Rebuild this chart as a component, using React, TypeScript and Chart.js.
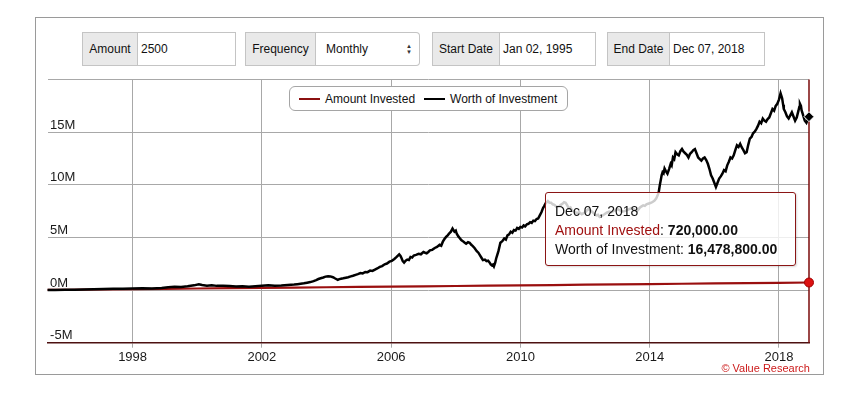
import React, { useEffect, useRef } from 'react';
import { Chart, registerables } from 'chart.js';

Chart.register(...registerables);

// ---------- DATA ----------
const amountDates = [1995.37, 1996, 1997, 1998, 1999, 2000, 2001, 2002, 2003, 2004, 2005, 2006, 2007, 2008, 2009, 2010, 2011, 2012, 2013, 2014, 2015, 2016, 2017, 2018, 2018.93];
const amountInvested = [0.0125, 0.03, 0.06, 0.09, 0.12, 0.15, 0.18, 0.21, 0.24, 0.27, 0.30, 0.33, 0.36, 0.39, 0.42, 0.45, 0.48, 0.51, 0.54, 0.57, 0.60, 0.63, 0.66, 0.69, 0.72];

const worthDates = [
  1995.37, 1995.6, 1995.9, 1996.2, 1996.5, 1996.8, 1997.1, 1997.4, 1997.7, 1998.0,
  1998.3, 1998.6, 1998.9, 1999.1, 1999.3, 1999.5, 1999.7, 1999.9, 2000.05, 2000.15,
  2000.3, 2000.45, 2000.6, 2000.8, 2001.0, 2001.2, 2001.4, 2001.6, 2001.8, 2002.0,
  2002.2, 2002.4, 2002.6, 2002.8,
  2003.0, 2003.1, 2003.2, 2003.3, 2003.4, 2003.5, 2003.6, 2003.68, 2003.75, 2003.82,
  2003.9, 2003.97, 2004.05, 2004.12, 2004.2, 2004.27, 2004.35, 2004.4, 2004.45, 2004.52,
  2004.6, 2004.67, 2004.75, 2004.82, 2004.9, 2004.97, 2005.05, 2005.12, 2005.2, 2005.27,
  2005.35, 2005.42, 2005.5, 2005.57, 2005.65, 2005.72, 2005.8, 2005.87, 2005.95, 2006.02,
  2006.1, 2006.17, 2006.25, 2006.29, 2006.32, 2006.36, 2006.4, 2006.45, 2006.5, 2006.55,
  2006.6, 2006.65, 2006.7, 2006.77, 2006.85, 2006.92, 2007.0, 2007.05, 2007.1, 2007.15,
  2007.2, 2007.27, 2007.35, 2007.42, 2007.5, 2007.55, 2007.6, 2007.65, 2007.7, 2007.75,
  2007.8, 2007.85, 2007.9, 2007.93, 2007.96, 2008.0, 2008.03, 2008.08, 2008.12, 2008.17,
  2008.22, 2008.27, 2008.32, 2008.38, 2008.43, 2008.48, 2008.52, 2008.58, 2008.65, 2008.7,
  2008.75, 2008.8, 2008.84, 2008.9, 2008.95, 2009.0, 2009.05, 2009.08, 2009.12, 2009.15,
  2009.18, 2009.22, 2009.25, 2009.28, 2009.32, 2009.35, 2009.38, 2009.44, 2009.5, 2009.55,
  2009.6, 2009.65, 2009.7, 2009.75, 2009.8, 2009.85, 2009.9, 2009.95, 2010.0, 2010.05,
  2010.1, 2010.15, 2010.2, 2010.25, 2010.3, 2010.35, 2010.4, 2010.45, 2010.5, 2010.55,
  2010.6, 2010.65, 2010.7, 2010.74, 2010.78, 2010.82, 2010.85, 2010.9, 2010.95, 2011.0,
  2011.05, 2011.12, 2011.2, 2011.25, 2011.3, 2011.35, 2011.4, 2011.45, 2011.5, 2011.55,
  2011.6, 2011.67, 2011.75, 2011.82, 2011.9, 2011.95, 2012.0, 2012.05, 2012.1, 2012.15,
  2012.2, 2012.27, 2012.35, 2012.4, 2012.45, 2012.52, 2012.6, 2012.67, 2012.75, 2012.82,
  2012.9, 2012.95, 2013.0, 2013.07, 2013.15, 2013.22, 2013.3, 2013.37, 2013.45, 2013.52,
  2013.6, 2013.65, 2013.7, 2013.75, 2013.8, 2013.85, 2013.9, 2013.95, 2014.0, 2014.05,
  2014.1, 2014.15, 2014.2, 2014.24, 2014.28, 2014.31, 2014.34, 2014.37, 2014.4, 2014.43,
  2014.46, 2014.5, 2014.55, 2014.6, 2014.65, 2014.68, 2014.72, 2014.76, 2014.8, 2014.85,
  2014.9, 2014.95, 2015.0, 2015.05, 2015.1, 2015.15, 2015.2, 2015.25, 2015.3, 2015.35,
  2015.4, 2015.45, 2015.5, 2015.55, 2015.6, 2015.65, 2015.7, 2015.75, 2015.8, 2015.85,
  2015.9, 2015.95, 2016.0, 2016.05, 2016.1, 2016.15, 2016.2, 2016.25, 2016.3, 2016.35,
  2016.4, 2016.45, 2016.5, 2016.55, 2016.6, 2016.65, 2016.7, 2016.75, 2016.8, 2016.85,
  2016.9, 2016.95, 2017.0, 2017.05, 2017.1, 2017.15, 2017.2, 2017.25, 2017.3, 2017.35,
  2017.4, 2017.45, 2017.5, 2017.55, 2017.6, 2017.65, 2017.7, 2017.75, 2017.8, 2017.85,
  2017.9, 2017.95, 2018.0, 2018.05, 2018.08, 2018.1, 2018.13, 2018.15, 2018.2, 2018.25,
  2018.3, 2018.35, 2018.4, 2018.45, 2018.5, 2018.55, 2018.6, 2018.63, 2018.65, 2018.68,
  2018.7, 2018.75, 2018.8, 2018.85, 2018.89, 2018.93,
];
const worthValues = [
  0.00, 0.01, 0.02, 0.04, 0.06, 0.07, 0.10, 0.13, 0.12, 0.15,
  0.18, 0.16, 0.20, 0.27, 0.32, 0.30, 0.36, 0.45, 0.56, 0.48,
  0.42, 0.46, 0.40, 0.42, 0.38, 0.33, 0.36, 0.32, 0.36, 0.40,
  0.45, 0.42, 0.44, 0.48,
  0.52, 0.56, 0.60, 0.64, 0.70, 0.76, 0.85, 0.95, 1.05, 1.12,
  1.20, 1.28, 1.32, 1.30, 1.22, 1.10, 0.98, 1.04, 1.08, 1.12,
  1.18, 1.22, 1.30, 1.36, 1.45, 1.52, 1.62, 1.58, 1.72, 1.70,
  1.85, 1.82, 1.95, 2.05, 2.20, 2.28, 2.45, 2.52, 2.70, 2.78,
  2.95, 3.15, 3.40, 3.25, 3.05, 2.75, 2.62, 2.80, 2.90, 2.85,
  3.15, 3.10, 3.28, 3.35, 3.45, 3.40, 3.62, 3.55, 3.50, 3.62,
  3.78, 3.82, 4.00, 4.10, 4.30, 4.22, 4.60, 4.85, 5.05, 5.20,
  5.40, 5.55, 5.85, 5.70, 5.55, 5.65, 5.35, 5.10, 4.95, 4.75,
  4.65, 4.52, 4.40, 4.55, 4.50, 4.30, 4.20, 4.00, 3.70, 3.55,
  3.30, 3.05, 2.85, 2.90, 2.75, 2.80, 2.60, 2.45, 2.35, 2.42,
  2.25, 2.60, 3.00, 3.30, 3.70, 4.10, 4.50, 4.65, 4.90, 4.80,
  5.20, 5.30, 5.55, 5.45, 5.70, 5.65, 5.90, 5.82, 6.00, 5.95,
  6.15, 6.05, 6.25, 6.30, 6.45, 6.38, 6.60, 6.55, 6.75, 6.80,
  7.10, 7.40, 7.80, 8.00, 8.25, 8.35, 8.45, 8.30, 8.30, 8.15,
  8.10, 7.90, 7.95, 8.10, 8.20, 8.35, 8.30, 8.05, 7.75, 7.85,
  7.55, 7.45, 7.30, 7.40, 7.20, 7.30, 7.35, 7.55, 7.70, 7.60,
  7.50, 7.30, 7.10, 7.15, 6.95, 7.05, 7.20, 7.35, 7.45, 7.40,
  7.55, 7.60, 7.70, 7.60, 7.45, 7.50, 7.60, 7.70, 7.80, 7.65,
  7.50, 7.65, 7.85, 7.95, 8.05, 8.00, 8.15, 8.20, 8.25, 8.30,
  8.40, 8.50, 8.70, 8.95, 9.30, 9.90, 10.40, 10.90, 11.20, 11.10,
  11.55, 11.30, 11.06, 11.50, 12.00, 11.85, 12.60, 12.45, 13.10, 12.90,
  12.80, 13.20, 13.40, 13.15, 13.00, 12.85, 12.60, 12.95, 13.10, 13.30,
  13.40, 13.00, 12.60, 12.45, 12.30, 12.50, 12.60, 12.35, 12.00, 11.50,
  10.90, 10.60, 10.20, 9.80, 10.20, 10.60, 10.80, 11.06, 11.40, 11.30,
  11.85, 12.20, 12.60, 12.50, 12.80, 13.30, 13.75, 13.60, 13.90, 13.55,
  13.30, 13.00, 13.10, 13.80, 14.40, 14.55, 14.90, 15.05, 15.30, 15.60,
  16.00, 15.85, 16.30, 16.10, 16.00, 16.25, 16.40, 16.80, 17.20, 17.05,
  17.50, 17.70, 18.10, 18.70, 18.40, 18.20, 17.60, 17.20, 16.90, 16.50,
  16.30, 16.60, 16.90, 16.50, 16.10, 16.40, 17.00, 17.40, 17.70, 17.50,
  17.10, 16.60, 16.10, 15.90, 16.20, 16.4788,
];

const xTickYears = [1998, 2002, 2006, 2010, 2014, 2018];
const yMin = -5;
const yMax = 20;
const yStep = 5;

const tooltipDate = 'Dec 07, 2018';
const controls = [
  { label: 'Amount', value: '2500' },
  { label: 'Frequency', value: 'Monthly' },
  { label: 'Start Date', value: 'Jan 02, 1995' },
  { label: 'End Date', value: 'Dec 07, 2018' },
];

const FONT = '"Liberation Sans", Arial, Helvetica, sans-serif';

function fmt(vM: number): string {
  const n = Math.round(vM * 1e6);
  return n.toString().replace(/\B(?=(\d{3})+(?!\d))/g, ',') + '.00';
}

const crosshairPlugin = {
  id: 'crosshair',
  beforeDatasetsDraw(chart: any) {
    const meta = chart.getDatasetMeta(0);
    const last = meta.data[meta.data.length - 1];
    if (!last) return;
    const { ctx, chartArea } = chart;
    ctx.save();
    ctx.strokeStyle = '#7a0a0a';
    ctx.lineWidth = 1.5;
    ctx.beginPath();
    ctx.moveTo(last.x, chartArea.top);
    ctx.lineTo(last.x, chartArea.bottom);
    ctx.stroke();
    ctx.restore();
  },
};

export default function App() {
  const canvasRef = useRef<HTMLCanvasElement | null>(null);

  useEffect(() => {
    if (!canvasRef.current) return;
    Chart.defaults.font.family = FONT;
    const worthData = worthDates.map((d, i) => ({ x: d, y: worthValues[i] }));
    const amountData = amountDates.map((d, i) => ({ x: d, y: amountInvested[i] }));
    const lastRadius = (n: number, r: number) => Array.from({ length: n }, (_, i) => (i === n - 1 ? r : 0));

    const chart = new Chart(canvasRef.current, {
      type: 'line',
      data: {
        datasets: [
          {
            label: 'Worth of Investment',
            data: worthData,
            borderColor: '#000000',
            backgroundColor: '#000000',
            borderWidth: 2.5,
            tension: 0,
            clip: 10,
            pointRadius: lastRadius(worthData.length, 5),
            pointStyle: 'rectRot',
            pointBackgroundColor: '#000000',
            pointBorderColor: '#ffffff',
            pointBorderWidth: 1,
          },
          {
            label: 'Amount Invested',
            data: amountData,
            borderColor: '#9a0f0f',
            backgroundColor: '#9a0f0f',
            borderWidth: 2.2,
            tension: 0,
            clip: 10,
            pointRadius: lastRadius(amountData.length, 4.5),
            pointBackgroundColor: '#dd1111',
            pointBorderColor: '#a00000',
            pointBorderWidth: 1,
          },
        ],
      },
      options: {
        responsive: false,
        animation: false,
        events: [],
        layout: { padding: { left: 47.6, top: 79.6, right: 44, bottom: 31.3 } },
        plugins: {
          legend: { display: false },
          tooltip: { enabled: false },
        },
        scales: {
          x: {
            type: 'linear',
            min: 1995.37,
            max: 2018.93,
            afterBuildTicks: (s: any) => {
              s.ticks = xTickYears.map((v) => ({ value: v }));
            },
            afterFit: (s: any) => {
              s.height = 25;
            },
            grid: { color: '#a8a8a8', lineWidth: 1, drawTicks: true, tickLength: 5 },
            border: { display: true, color: '#4d1010', width: 1.5 },
            ticks: {
              color: '#1a1a1a',
              font: { size: 13 },
              padding: 2,
              maxRotation: 0,
              autoSkip: false,
              callback: (v: any) => String(v),
            },
          },
          y: {
            min: yMin,
            max: yMax,
            afterFit: (s: any) => {
              s.width = 0;
            },
            grid: { color: '#a8a8a8', lineWidth: 1, drawTicks: false },
            border: { display: false },
            ticks: {
              stepSize: yStep,
              mirror: true,
              padding: 2.5,
              labelOffset: -7,
              color: '#1a1a1a',
              font: { size: 13 },
              callback: (v: any) => (v === yMax ? '' : v + 'M'),
            },
          },
        },
      },
      plugins: [crosshairPlugin],
    });
    return () => chart.destroy();
  }, []);

  const boxes = [
    { left: 82, lw: 56, w: 98 },
    { left: 245, lw: 71, w: 104 },
    { left: 432, lw: 68, w: 96 },
    { left: 607, lw: 63, w: 95 },
  ];

  return (
    <div style={{ position: 'absolute', left: 0, top: 0, width: 853, height: 399, background: '#fff', fontFamily: FONT, overflow: 'hidden' }}>
      <div style={{ position: 'absolute', left: 35, top: 17, width: 789, height: 358, border: '1px solid #9a9a9a', boxSizing: 'border-box' }} />
      {controls.map((c, i) => {
        const b = boxes[i];
        const isSelect = c.label === 'Frequency';
        return (
          <div key={c.label} style={{ position: 'absolute', left: b.left, top: 32, height: 34, display: 'flex', fontSize: 12, color: '#111' }}>
            <div style={{ width: b.lw, height: 34, boxSizing: 'border-box', background: '#e9e9e9', border: '1px solid #c4c4c4', display: 'flex', alignItems: 'center', justifyContent: 'center' }}>{c.label}</div>
            <div style={{ width: b.w, height: 34, boxSizing: 'border-box', background: '#fff', border: '1px solid #c4c4c4', borderLeft: 'none', borderRadius: isSelect ? '0 4px 4px 0' : 0, display: 'flex', alignItems: 'center', paddingLeft: isSelect ? 10 : 3, position: 'relative' }}>
              {c.value}
              {isSelect && (
                <span style={{ position: 'absolute', right: 7, top: 10, display: 'flex', flexDirection: 'column', fontSize: 6, lineHeight: '6px', color: '#333' }}>
                  <span>▲</span>
                  <span>▼</span>
                </span>
              )}
            </div>
          </div>
        );
      })}
      <canvas ref={canvasRef} width={853} height={399} style={{ position: 'absolute', left: 0, top: 0, width: 853, height: 399 }} />
      {/* legend */}
      <div style={{ position: 'absolute', left: 289, top: 86, width: 279, height: 25, boxSizing: 'border-box', border: '1px solid #a5a5a5', borderRadius: 6, background: '#fff', display: 'flex', alignItems: 'center', fontSize: 12, color: '#111' }}>
        <span style={{ display: 'inline-block', width: 21, height: 2, background: '#8b1010', marginLeft: 9 }} />
        <span style={{ marginLeft: 5 }}>Amount Invested</span>
        <span style={{ display: 'inline-block', width: 21, height: 2, background: '#000', marginLeft: 9 }} />
        <span style={{ marginLeft: 5 }}>Worth of Investment</span>
      </div>
      {/* tooltip */}
      <div style={{ position: 'absolute', left: 545, top: 192, width: 251, height: 74, boxSizing: 'border-box', border: '1px solid #8b1515', borderRadius: 3, background: 'rgba(255,255,255,0.8)', boxShadow: '1px 1px 2px rgba(0,0,0,0.15)', padding: '9px 0 0 9px', fontSize: 14, lineHeight: '19px', color: '#111', whiteSpace: 'nowrap' }}>
        <div>{tooltipDate}</div>
        <div>
          <span style={{ color: '#a01010' }}>Amount Invested</span>: <b>{fmt(amountInvested[amountInvested.length - 1])}</b>
        </div>
        <div>
          Worth of Investment: <b>{fmt(worthValues[worthValues.length - 1])}</b>
        </div>
      </div>
      {/* credit */}
      <div style={{ position: 'absolute', right: 853 - 810, top: 362, fontSize: 11, color: '#cc1a1a' }}>© Value Research</div>
    </div>
  );
}
